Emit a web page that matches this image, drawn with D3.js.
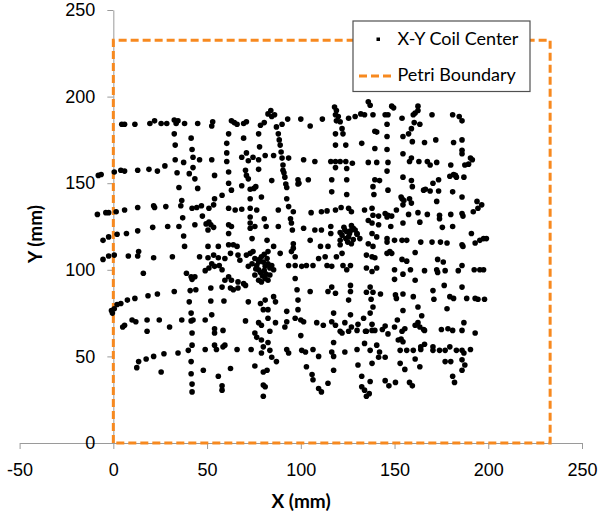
<!DOCTYPE html>
<html>
<head>
<meta charset="utf-8">
<script src="https://cdn.jsdelivr.net/npm/d3@7"></script>
<style>
    html, body {
        margin: 0;
        padding: 0;
        background: #ffffff;
    }
    #scatter-chart {
        width: 600px;
        height: 514px;
    }
</style>
</head>
<body>
<div id="scatter-chart"></div>
<script>
// Data
const xTicks = [-50, 0, 50, 100, 150, 200, 250];
const yTicks = [0, 50, 100, 150, 200, 250];

const legendLabels = ['X-Y Coil Center', 'Petri Boundary'];

// petri dish outline (mm)
const boundaryX = [0, 0, 233, 233, 0];
const boundaryY = [0, 232.5, 232.5, 0, 0];

// coil centers, [x mm, y mm]
const coilCenters = [
    [4.5,184],[6,184],[11.5,184],[19.5,184.5],[22,186],[25.5,184.5],[28.5,184.5],[32.5,186.5],[34.5,186],[33.5,184.5],[38,184.5],[45,184.5],[53,185.5],[52.5,183],
    [32.5,178.5],[41.5,176],[33,172],[42,169.5],[42.5,165],[33,163.5],[37.5,162],[46,163.5],[52.5,163.5],[42.5,159],[27.5,160],[34,156],[40.5,155.5],[43.5,152.5],[54,154.5],
    [-8,154.5],[-6.5,155],[0.5,156.5],[4,157.5],[6,157],[13,157.5],[19,158],[23.5,157],
    [35,147.5],[45,147],[36.5,140],[54,141],[58,143],
    [-8.5,132],[-4,133],[-2.5,133],[1.5,133.5],[6,134.5],[13,136],[21.5,137],[22,136],[28,136.5],[36,137],[42,135.5],[44.5,136],[47,137],[51,135.5],[53.5,137.5],
    [37,130],[47.5,131],[51,127.5],[49.5,126.5],[52,126],[53.5,124.5],[50.5,123],
    [-5.5,117],[-2.5,119],[2,120.5],[7,121],[13,122.5],[21,124.5],[29,125],[35,125],[43.5,126],[37.5,119.5],[38,113.5],[50.5,113.5],[56,113.5],
    [-5.5,106],[-2.5,108],[0.5,108.5],[8,108],[13,108],[13.5,110.5],[21.5,107],[31.5,107.5],[46,107.5],[50.5,107],[53.5,108.5],[56,107],
    [16,98],[39,98],[41.5,96],[42,94.5],[43.5,96],[49,99.5],[51,101],[52.5,103.5],[54,102],[56.5,102.5],[58,100],
    [32.5,87.5],[41,88],[44,88.5],[52,89.5],[58,90],
    [-1,76.5],[-0.5,75],[0.5,77.5],[2,80],[4,80.5],[7.5,82.5],[11.5,83.5],[18.5,85],[23.5,86],[40.5,81.5],[52,82],[59,82],[41.5,75],[52.5,74],
    [5,67],[6,68],[10,71],[12,70],[18,71],[24.5,71],[30,67],[36.5,71],[41.5,70.5],[42.5,71],[49,71],
    [18,64.5],[42,63.5],[54,66],[54,63.5],[58.5,65],
    [42,56.5],[54,56.5],[58.5,55.5],
    [12.5,43.5],[13.5,47],[17.5,48.5],[21.5,50],[27,51.5],[34.5,52],[40,53.5],[49,54],[55,54],
    [25.5,41],[41.5,47],[41.5,40],[48,42],[56,38.5],[58,33],[58,30.5],[42,34],[42,29.5],
    [63,186],[64.5,185],[66,184],[69.5,184.5],[71,185.5],[78.5,183.5],[80.5,185],[82.5,190],[84,192],[84.5,188.5],[86,189.5],[87,182.5],[90,184],[93,187],[100,187],[105,183],[111.5,187],
    [118,194],[119,192],[118.5,189.5],[120,188.5],[119,186],[121,185.5],[122,181.5],[125.5,187.5],[129,188.5],[132,190],
    [61.5,178.5],[69.5,176],[77.5,178.5],[88,178.5],[118.5,178.5],[122.5,178.5],
    [60.5,173],[78,171],[88.5,175],[89,172],
    [60.5,167.5],[71,167.5],[89.5,168],[118.5,172],[124,172],[132.5,173],
    [68.5,165],[72,163],[74.5,165],[77.5,163.5],[81,166],[85.5,166],[90,164.5],[93.5,164.5],[101.5,163.5],[107.5,162.5],[116,162.5],[118.5,162.5],[121,162.5],[124,162.5],[127.5,161.5],
    [60.5,162.5],[70.5,157.5],[71,154.5],[72,152.5],[77.5,158],[90.5,157.5],[118.5,159],[124.5,158.5],
    [61.5,156.5],[61.5,150],[84.5,151.5],[91.5,153.5],[98.5,152],[99,150],[98.5,149.5],[104,152],[116.5,152],[124.5,152],
    [63,146],[68.5,148.5],[73,146.5],[75,147],[76,148],[92.5,147.5],
    [73,141],[79,142],[92.5,141],[116.5,145],[124.5,143.5],
    [90.5,160.5],[91,156],[92,149.5],[95.5,123],
    [61.5,135.5],[65,134.5],[68.5,135],[73,135.5],[76.5,134.5],[88,134.5],[93.5,136.5],[96,133.5],[105.5,133],[111,133.5],[114,134],[118.5,134.5],[121.5,136],[125.5,135.5],[127,133.5],
    [73,130.5],[80.5,129.5],[94.5,129.5],
    [61.5,126],[63,125],[73,127],[73,124],[75.5,125],[81.5,125],[88,125],[95,127],[101.5,124],[107.5,123],[111,123],[116,125],[116,121],[121,121.5],[123.5,123],[125.5,119],[128,124],[130,121],[127,115],[131.5,118],
    [122,120],[124,118],[126,121],[128,117.5],[123,124.5],[127,125.5],[130,120.5],[121,117],[125,116],[129,123],[126.5,122.5],[124.5,122],
    [61.5,121],[74,118],[82,117],[96,115],[105,117],
    [61.5,114.5],[64,114.5],[66,113.5],[85.5,113.5],[96,112.5],[110.5,113.5],[114.5,113.5],[121,114.5],
    [136,197],[137,195],[148.5,194.5],[149.5,193.5],[162.5,194.5],[162.5,192],[161,190.5],[160,189.5],[134,189.5],[138.5,189.5],[145,189.5],[146.5,189.5],[154,187.5],[170,189.5],[181,189.5],[184.5,188.5],[186,186],
    [146,184],[160.5,185],[163.5,184],[139.5,180],[140.5,179.5],[159,181.5],[146,177],[154.5,177],[157.5,178.5],
    [159.5,174],[166,173.5],[172,175],[181.5,173.5],[186,175],[139.5,170],[146,169.5],[186,169],[186,167],
    [154.5,167],[159,164.5],[158,162.5],[163,162.5],[167.5,162.5],[169,160.5],[172.5,162],[180,160.5],[190.5,164.5],[191.5,163.5],[189.5,161],[187.5,160.5],
    [136,162],[140.5,162],[146.5,162],[146,157],
    [179.5,154],[181.5,155],[182.5,154.5],[183,153.5],[187,153.5],
    [139.5,152],[142,151.5],[138.5,148],[154.5,153.5],[159,151.5],[159.5,148],[165.5,146],[166.5,146.5],[169,145.5],[173.5,152],[170.5,150],[173.5,145.5],
    [146.5,146],[139,143.5],[186,142],[181,145],
    [153.5,142],[154,141],[155,140],[154.5,137.5],[158,141],[159,138.5],[172.5,139.5],
    [194,139.5],[196.5,137.5],[194.5,135.5],[192,133.5],
    [134,134.5],[138,135.5],[138.5,131.5],[141.5,131],[145,132.5],[146,130.5],[146.5,131.5],[148.5,131],[151,134.5],[157.5,132],[162.5,133],[167.5,132],[174,131.5],[180,132],[186,132.5],[186.5,131],
    [136,128.5],[138,127],[141.5,126],[148,125],[154.5,127],[163.5,127.5],[174,129.5],[175.5,124.5],[181,125],
    [138,121],[140.5,119],[146,118],[146,116],[150,117],[154,117],[156.5,117],[164,116],[170,116],[174.5,116],[178,115.5],[186,114.5],[186.5,113.5],[191,121],[193,115.5],[195.5,117],[197.5,118],[199,118],
    [136,115],[138.5,113.5],
    [59.5,106.5],[62.5,109.5],[66.5,108.5],[67.5,105.5],[61.5,96],[59.5,94],[63,94],[66.5,93],
    [71,108.5],[73,109.5],[74.5,110.5],[75.5,106.5],[76.5,102.5],[74,103.5],[72,102],[77.5,104.5],[79,107.5],[80,104.5],[81,102],[82.5,103.5],[82,106.5],[83.5,101],[84.5,102.5],
    [77.5,100],[75.5,97],[77.5,94],[79,93],[81,95],[82.5,94],[83.5,97],[85.5,100],[69.5,92],[70.5,91],[62.5,89.5],[64,88.5],[66.5,89.5],
    [78.5,98.5],[80.5,99.5],[79.5,96.5],[76,100.5],[81.5,97.5],[78,106],[80.5,109],
    [82.5,110.5],[89,109.5],[95,110.5],[97,107.5],[93.5,102.5],[97,102.5],[100.5,102],[103,102.5],[106.5,102.5],[109.5,106.5],[113,107.5],[114,102.5],[116.5,102],[119,107.5],[122,109.5],[122.5,102.5],[126.5,102.5],[124.5,100],
    [97,95],[98,88.5],[105,87.5],[114.5,87.5],[116.5,90],[118.5,86.5],[126.5,87.5],[126.5,91],[125.5,82.5],
    [72,81.5],[78.5,80.5],[81,82.5],[85.5,84.5],[86.5,81.5],[80,77],[82.5,77],[92.5,76],[98.5,82.5],[98.5,77],[117.5,75],[126.5,74],
    [70.5,70.5],[77.5,69.5],[79,68],[82.5,72],[86.5,69.5],[91.5,67],[92.5,70],[97,72],[100,71],[101.5,70],[108.5,69.5],[112,68],[116.5,70],[118.5,68],[123.5,69.5],[127,67],[130.5,68.5],[133.5,72],
    [75.5,63.5],[76.5,61],[83.5,64.5],[100,62],[121,64.5],[122,63.5],[125.5,64.5],[130,65],[134.5,64.5],
    [66,54],[73.5,54],[79,59.5],[80,55.5],[82.5,58],[83.5,53.5],[59.5,56.5],[92.5,54],[93.5,52],[100.5,53.5],[102.5,52.5],[106.5,54],[109.5,50],[116.5,52.5],[117.5,50],[123.5,52.5],[130,54],[117.5,58],
    [79,52],[84.5,49.5],[87,47],
    [62.5,43],[75.5,44.5],[80,41],[82,42],[103,44],[106,39.5],[106.5,36.5],[109.5,31.5],[111,29.5],[114.5,34.5],[117.5,42],[130.5,45],[132.5,38.5],[132.5,32.5],
    [80,33.5],[81,32.5],[80,27],
    [135,108.5],[138,107.5],[139.5,107],[146,109.5],[147.5,110.5],[148.5,109.5],[161,110],
    [154,106],[156.5,105],[173,106],[176,104.5],[186,102.5],
    [135,101],[138,99],[140.5,101],[150,100],[154.5,97.5],[158.5,100],[166,99.5],[172.5,100],[173,98.5],[177,99.5],[184,99.5],[192.5,100],[195.5,100],[197.5,100],
    [150,94.5],[161,94],[176.5,91],[186,90],
    [137,90],[135,87],[138.5,87],[137.5,83],[142.5,86],[150.5,85.5],[151,83.5],[154.5,86],[160,84.5],[170.5,88],[171,83],[179.5,84.5],[181.5,83.5],[188.5,83.5],[193,83.5],[194.5,83],[198,83],
    [154.5,76.5],[162.5,78.5],[164.5,73.5],[178,77.5],[137,75],[138.5,78.5],
    [138,68.5],[151.5,71],[145,67.5],[161,68],[162.5,69.5],[163.5,67],[165.5,65.5],[155.5,66],[154,64.5],[150,67],[143.5,65.5],[135,64.5],[138,65],[139.5,65],[175,65.5],[178.5,66],[181,65],[186,65],[187,69.5],[193,63.5],[146.5,63],[166,65],
    [134,57.5],[140.5,56.5],[137,53.5],[142,52.5],[152,59.5],[153.5,60],[154.5,58.5],[153,53.5],[156.5,53.5],[160,53.5],[164,54],[164,55.5],[166,57],[170.5,55.5],[170.5,53.5],[174,53.5],[177,53.5],[179.5,55.5],[183,53.5],[186,53.5],[187,52],[190.5,54],
    [138,46],[141.5,49.5],[145,49.5],[153,46],[155.5,42.5],[161,48.5],[163.5,44],[177,47],[180,47],[186,48],[187.5,45],[186,42],
    [137,35.5],[145,36],[147,33],[150.5,35],[158,35],[159.5,33],[181,38.5],[182,35],
    [134,30.5],[136.5,28.5],[135,27]
];

// Layout
const width = 600;
const height = 514;
const margin = { top: 10, right: 18, bottom: 71, left: 19.6 };
const orange = '#F7891F';
const axisGray = '#9a9a9a';
const fontFamily = 'Lato, "Open Sans", sans-serif';

// scale
const xScale = d3.scaleLinear()
    .domain([-50, 250])
    .range([margin.left, width - margin.right]);

const yScale = d3.scaleLinear()
    .domain([0, 250])
    .range([height - margin.bottom, margin.top]);

// svg
const svg = d3.select('#scatter-chart')
    .append('svg')
    .attr('width', width)
    .attr('height', height)
    .style('font-family', fontFamily);

// soft edge on the markers
const defs = svg.append('defs');
defs.append('filter')
    .attr('id', 'soft')
    .attr('x', '-50%').attr('y', '-50%')
    .attr('width', '200%').attr('height', '200%')
    .append('feGaussianBlur')
    .attr('stdDeviation', 0.65);

// plain hyphen for negatives, like the original
const plainFormat = d => String(d);

// x axis
const xAxis = svg.append('g')
    .attr('transform', 'translate(0,' + yScale(0) + ')')
    .call(d3.axisBottom(xScale).tickValues(xTicks).tickFormat(plainFormat).tickSize(6).tickSizeOuter(0).tickPadding(14));

xAxis.select('.domain').attr('stroke', axisGray);
xAxis.selectAll('.tick line').attr('stroke', axisGray);
xAxis.selectAll('text')
    .style('font-size', '18px')
    .attr('fill', '#000');

// y axis
const yAxis = svg.append('g')
    .attr('transform', 'translate(' + xScale(0) + ',0)')
    .call(d3.axisLeft(yScale).tickValues(yTicks).tickFormat(plainFormat).tickSize(6).tickSizeOuter(0).tickPadding(12));

yAxis.select('.domain').attr('stroke', axisGray);
yAxis.selectAll('.tick line').attr('stroke', axisGray);
yAxis.selectAll('text')
    .style('font-size', '18px')
    .attr('fill', '#000');

// axis titles
svg.append('text')
    .attr('x', 301)
    .attr('y', 507.5)
    .attr('text-anchor', 'middle')
    .style('font-size', '19px')
    .style('font-weight', 'bold')
    .text('X (mm)');

svg.append('text')
    .attr('transform', 'translate(41.5,234) rotate(-90)')
    .attr('text-anchor', 'middle')
    .style('font-size', '19px')
    .style('font-weight', 'bold')
    .text('Y (mm)');

// petri boundary
const boundaryLine = d3.line()
    .x(d => xScale(d[0]))
    .y(d => yScale(d[1]));

svg.append('path')
    .attr('fill', 'none')
    .attr('stroke', orange)
    .attr('stroke-width', 3)
    .attr('stroke-dasharray', '8,4')
    .attr('d', boundaryLine(boundaryX.map((x, i) => [x, boundaryY[i]])));

// points
svg.append('g')
    .attr('class', 'points-group')
    .attr('filter', 'url(#soft)')
    .selectAll('circle')
    .data(coilCenters)
    .join('circle')
    .attr('cx', d => xScale(d[0]))
    .attr('cy', d => yScale(d[1]))
    .attr('r', 2.8)
    .attr('fill', '#000');

// legend
const legend = svg.append('g')
    .attr('class', 'legend')
    .attr('transform', 'translate(353,21)');

legend.append('rect')
    .attr('width', 177)
    .attr('height', 70.5)
    .attr('fill', '#fff')
    .attr('stroke', '#505050')
    .attr('stroke-width', 1.2);

legend.append('rect')
    .attr('x', 23.5)
    .attr('y', 16.5)
    .attr('width', 3.5)
    .attr('height', 3.5)
    .attr('fill', '#000');

legend.append('line')
    .attr('x1', 6)
    .attr('x2', 39)
    .attr('y1', 55)
    .attr('y2', 55)
    .attr('stroke', orange)
    .attr('stroke-width', 3)
    .attr('stroke-dasharray', '8,4');

legend.selectAll('text')
    .data(legendLabels)
    .join('text')
    .attr('x', 44.5)
    .attr('y', (d, i) => 19 + i * 36)
    .attr('dominant-baseline', 'middle')
    .style('font-size', '18px')
    .text(d => d);
</script>
</body>
</html>
